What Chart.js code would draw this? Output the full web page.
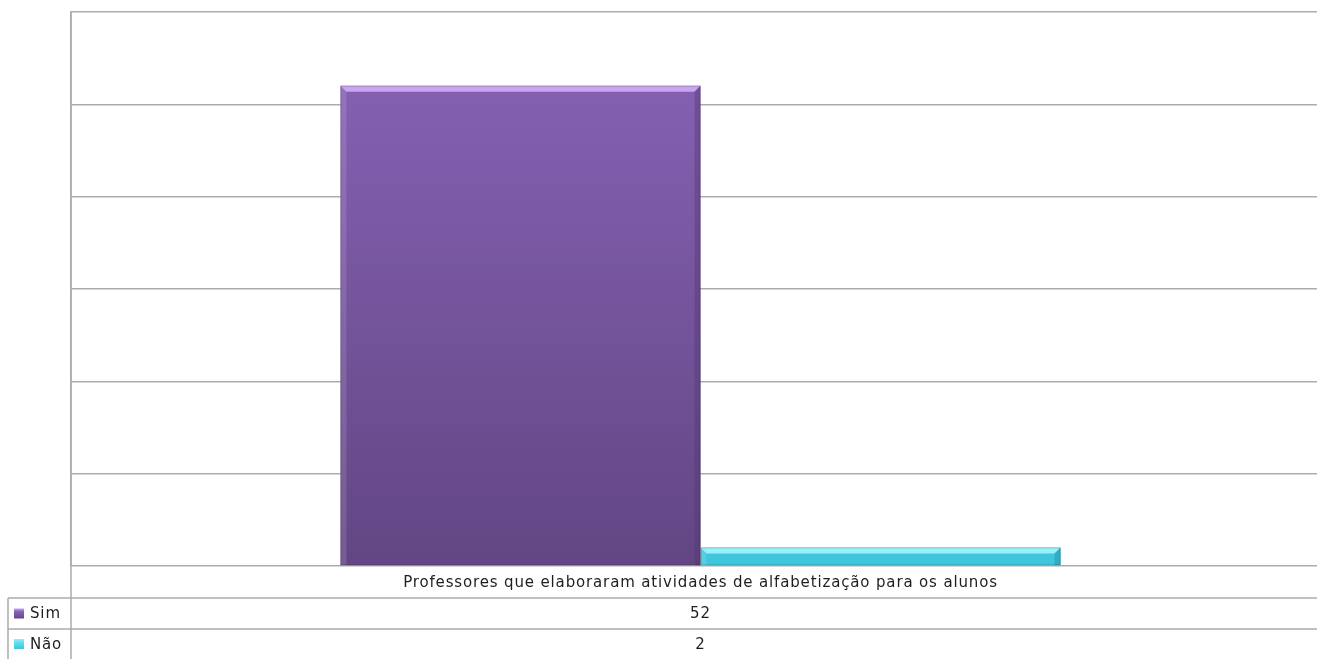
<!DOCTYPE html>
<html>
<head>
<meta charset="utf-8">
<script src="https://cdn.jsdelivr.net/npm/chart.js@4/dist/chart.umd.min.js"></script>
<style>
  html, body { margin: 0; padding: 0; background: #fff; overflow: hidden; }
  #wrap { width: 1330px; height: 659px; }
</style>
</head>
<body>
<div id="wrap"><canvas id="chart" width="1330" height="659"></canvas></div>
<script>
// Data
const categories = ['Professores que elaboraram atividades de alfabetização para os alunos'];
const seriesNames = ['Sim', 'Não'];
const simValues = [52];
const naoValues = [2];
const yTicks = [0, 10, 20, 30, 40, 50, 60];

const GRID = '#acacac';
const TEXT = '#1e1e1e';
const FONT = '15px "DejaVu Sans", sans-serif';

// colours per series: [top, bottom, highlight, edge dark]
const palette = {
  'Sim': ['#8a64b9', '#624683', '#c7a6ef', '#4f386c'],
  'Não': ['#62e2f2', '#3fc6dc', '#95f1fb', '#1d8597']
};

function barGradient(name) {
  return (ctx) => {
    const ca = ctx.chart.chartArea;
    if (!ca) return palette[name][0];
    const g = ctx.chart.ctx.createLinearGradient(0, ca.top, 0, ca.bottom);
    g.addColorStop(0, palette[name][0]);
    g.addColorStop(1, palette[name][1]);
    return g;
  };
}

// bevel look on the bars (uses the bar elements laid out by Chart.js)
const bevelPlugin = {
  id: 'bevel',
  afterDatasetsDraw(chart) {
    const c = chart.ctx;
    chart.data.datasets.forEach((ds, i) => {
      const pal = palette[ds.label];
      chart.getDatasetMeta(i).data.forEach(bar => {
        const l = bar.x - bar.width / 2, r = bar.x + bar.width / 2;
        const t = bar.y, b = bar.base;
        const d = Math.min(6, (b - t) / 2);
        c.save();
        c.fillStyle = pal[2];
        c.beginPath();
        c.moveTo(l, t); c.lineTo(r, t); c.lineTo(r - d, t + d); c.lineTo(l + d, t + d);
        c.closePath(); c.fill();
        c.globalAlpha = 0.4;
        c.fillStyle = pal[3];
        c.beginPath();
        c.moveTo(r, t); c.lineTo(r, b); c.lineTo(r - d, b); c.lineTo(r - d, t + d);
        c.closePath(); c.fill();
        c.globalAlpha = 0.12;
        c.fillStyle = '#ffffff';
        c.beginPath();
        c.moveTo(l, t); c.lineTo(l + d, t + d); c.lineTo(l + d, b); c.lineTo(l, b);
        c.closePath(); c.fill();
        c.globalAlpha = 1;
        c.strokeStyle = 'rgba(0,0,0,0.15)';
        c.lineWidth = 1;
        c.strokeRect(l + 0.5, t + 0.5, r - l - 1, b - t - 1);
        c.restore();
      });
    });
  }
};

// data table under the plot area, Excel style
const tablePlugin = {
  id: 'dataTable',
  afterDraw(chart) {
    const c = chart.ctx;
    const ca = chart.chartArea;
    const xs = chart.scales.x;
    const W = chart.width, H = chart.height;
    const rowH = [32, 31, 30];
    const y0 = ca.bottom;
    const y1 = y0 + rowH[0], y2 = y1 + rowH[1], y3 = y2 + rowH[2];
    const legL = 8;

    c.save();
    c.strokeStyle = GRID;
    c.lineWidth = 1.5;
    c.beginPath();
    [y1, y2].forEach(y => { c.moveTo(legL, y); c.lineTo(W, y); });
    c.moveTo(ca.left, ca.top); c.lineTo(ca.left, H);
    c.moveTo(legL, y1); c.lineTo(legL, H);
    c.stroke();

    c.font = FONT;
    c.letterSpacing = '0.85px';
    c.fillStyle = TEXT;
    c.textAlign = 'center';
    c.textBaseline = 'middle';
    categories.forEach((cat, i) => {
      const cx = xs.getPixelForValue(i);
      c.fillText(cat, cx, (y0 + y1) / 2 + 1);
      c.fillText(String(simValues[i]), cx, (y1 + y2) / 2 + 1);
      c.fillText(String(naoValues[i]), cx, (y2 + y3) / 2 + 1);
    });

    // legend keys
    c.textAlign = 'left';
    [[seriesNames[0], y1, y2], [seriesNames[1], y2, y3]].forEach(([name, ta, tb]) => {
      const pal = palette[name];
      const my = (ta + tb) / 2;
      const g = c.createLinearGradient(0, my - 5, 0, my + 5);
      g.addColorStop(0, pal[2]);
      g.addColorStop(0.3, pal[0]);
      g.addColorStop(1, pal[1]);
      c.fillStyle = g;
      c.fillRect(14, my - 5, 10, 10);
      c.fillStyle = TEXT;
      c.fillText(name, 30, my + 1);
    });
    c.restore();
  }
};

new Chart(document.getElementById('chart'), {
  type: 'bar',
  data: {
    labels: categories,
    datasets: [
      { label: seriesNames[0], data: simValues, backgroundColor: barGradient('Sim') },
      { label: seriesNames[1], data: naoValues, backgroundColor: barGradient('Não') }
    ]
  },
  options: {
    responsive: false,
    animation: false,
    layout: { padding: { left: 71, top: 12, right: 0, bottom: 93 } },
    datasets: { bar: { categoryPercentage: 0.572, barPercentage: 1 } },
    scales: {
      x: { display: false },
      y: {
        min: yTicks[0],
        max: yTicks[yTicks.length - 1],
        afterBuildTicks: (s) => { s.ticks = yTicks.map(v => ({ value: v })); },
        ticks: { display: false },
        grid: { color: GRID, lineWidth: 1.5, drawTicks: false },
        border: { display: true, color: GRID, width: 1.5 }
      }
    },
    plugins: {
      legend: { display: false },
      tooltip: { enabled: false }
    }
  },
  plugins: [bevelPlugin, tablePlugin]
});
</script>
</body>
</html>
